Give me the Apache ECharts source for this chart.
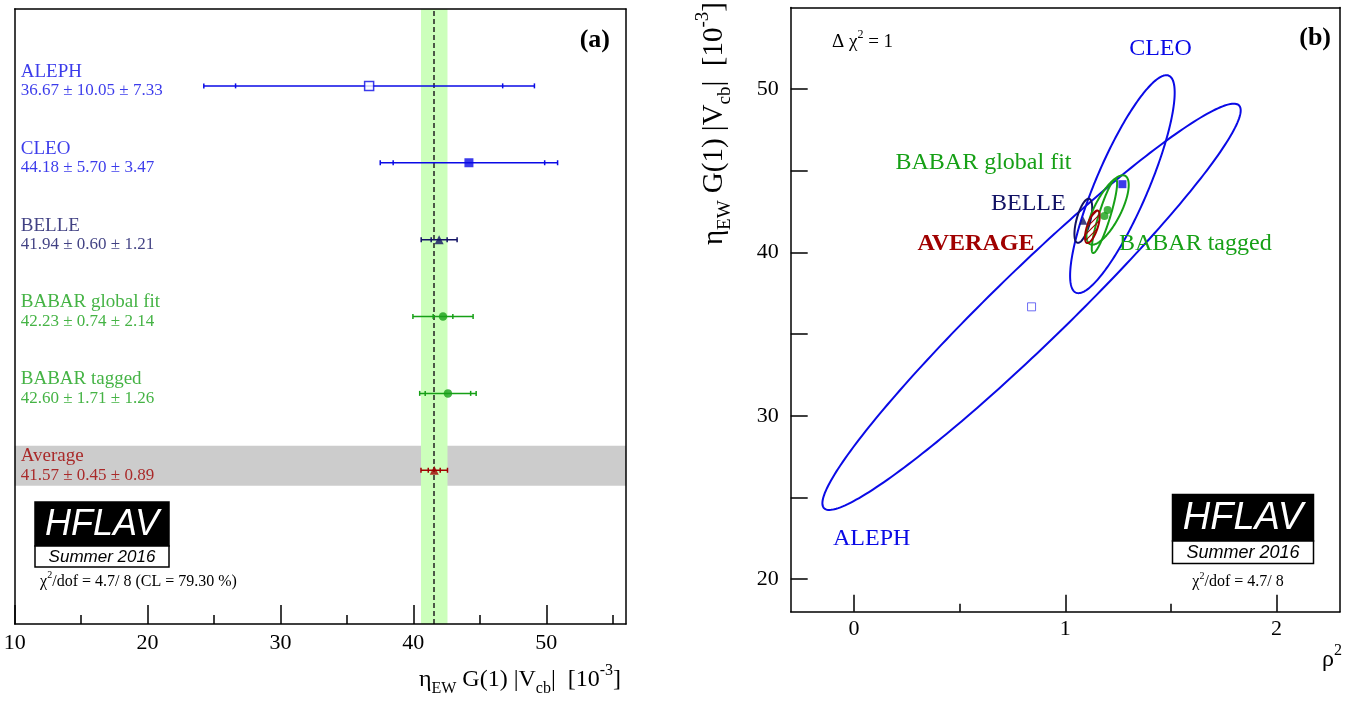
<!DOCTYPE html>
<html><head><meta charset="utf-8">
<script src="https://cdn.jsdelivr.net/npm/echarts@6/dist/echarts.min.js"></script>
<style>html,body{margin:0;padding:0;background:#fff}#c{width:1350px;height:703px}</style>
</head><body><div id="c"></div>
<script>
// ---------------- data ----------------
const experiments = ['ALEPH', 'CLEO', 'BELLE', 'BABAR global fit', 'BABAR tagged', 'Average'];
const vcbValues   = [36.67, 44.18, 41.94, 42.23, 42.60, 41.57];
const statErrors  = [10.05, 5.70, 0.60, 0.74, 1.71, 0.45];
const systErrors  = [7.33, 3.47, 1.21, 2.14, 1.26, 0.89];
const rowPositions = [7, 6, 5, 4, 3, 2];
const rhoValues   = [0.84, 1.27, 1.085, 1.185, 1.20, 1.128];
const rhoSigmas   = [0.99, 0.2475, 0.042, 0.06, 0.10, 0.035];
const correlations = [0.967, 0.84, 0.60, 0.88, 0.72, 0.66];
const leftMajorTicks = [10, 20, 30, 40, 50];
const leftMinorTicks = [15, 25, 35, 45, 55];
const rightXMajorTicks = [0, 1, 2];
const rightXMinorTicks = [0.5, 1.5];
const rightYTicks = [20, 25, 30, 35, 40, 45, 50];
const rightYLabels = [20, 30, 40, 50];

// ---------------- style ----------------
const SERIF = "'Liberation Serif','Times New Roman',serif";
const SANS = "'Liberation Sans',Arial,sans-serif";
const colors = ['#0a0ae6', '#0a0ae6', '#111164', '#16a016', '#16a016', '#a00000'];
const leftSymbols = ['rect', 'rect', 'triangle', 'circle', 'circle', 'triangle'];
const totalErrors = vcbValues.map((v, i) => Math.sqrt(statErrors[i] ** 2 + systErrors[i] ** 2));
const avgIdx = 5;

const chart = echarts.init(document.getElementById('c'));

const frameLine = {color: '#000', width: 1.5};
function ax(extra) {
  return Object.assign({type: 'value', splitLine: {show: false},
    axisLine: {show: false, onZero: false, lineStyle: frameLine},
    axisTick: {show: false}, axisLabel: {show: false}, z: 10}, extra);
}
const tickLabel = {show: true, fontSize: 22, fontFamily: SERIF, color: '#000'};

// hatch pattern for average ellipse
const hc = document.createElement('canvas');
hc.width = 6; hc.height = 6;
const hg = hc.getContext('2d');
hg.strokeStyle = '#a00000'; hg.lineWidth = 1.1;
hg.beginPath();
hg.moveTo(0, 6); hg.lineTo(6, 0);
hg.moveTo(-1, 1); hg.lineTo(1, -1);
hg.moveTo(5, 7); hg.lineTo(7, 5);
hg.stroke();

const xAxes = [
  ax({gridIndex: 0, min: 10, max: 56, position: 'bottom',
      axisLine: {show: true, onZero: false, lineStyle: frameLine},
      axisTick: {show: true, inside: true, length: 19, customValues: leftMajorTicks, lineStyle: frameLine},
      axisLabel: Object.assign({customValues: leftMajorTicks, margin: 8}, tickLabel)}),
  ax({gridIndex: 0, min: 10, max: 56, position: 'bottom',
      axisTick: {show: true, inside: true, length: 9, customValues: leftMinorTicks, lineStyle: frameLine}}),
  ax({gridIndex: 0, min: 10, max: 56, position: 'top', axisLine: {show: true, onZero: false, lineStyle: frameLine}}),
  ax({gridIndex: 1, min: -0.3, max: 2.3, position: 'bottom',
      axisLine: {show: true, onZero: false, lineStyle: frameLine},
      axisTick: {show: true, inside: true, length: 17, customValues: rightXMajorTicks, lineStyle: frameLine},
      axisLabel: Object.assign({customValues: rightXMajorTicks, margin: 7}, tickLabel)}),
  ax({gridIndex: 1, min: -0.3, max: 2.3, position: 'bottom',
      axisTick: {show: true, inside: true, length: 8, customValues: rightXMinorTicks, lineStyle: frameLine}}),
  ax({gridIndex: 1, min: -0.3, max: 2.3, position: 'top', axisLine: {show: true, onZero: false, lineStyle: frameLine}})
];
const yAxes = [
  ax({gridIndex: 0, min: 0, max: 8, position: 'left', axisLine: {show: true, onZero: false, lineStyle: frameLine}}),
  ax({gridIndex: 0, min: 0, max: 8, position: 'right', axisLine: {show: true, onZero: false, lineStyle: frameLine}}),
  ax({gridIndex: 1, min: 18, max: 55, position: 'left',
      axisLine: {show: true, onZero: false, lineStyle: frameLine},
      axisTick: {show: true, inside: true, length: 17, customValues: rightYTicks, lineStyle: frameLine},
      axisLabel: Object.assign({customValues: rightYLabels, margin: 12}, tickLabel)}),
  ax({gridIndex: 1, min: 18, max: 55, position: 'right', axisLine: {show: true, onZero: false, lineStyle: frameLine}})
];

const avgLo = vcbValues[avgIdx] - totalErrors[avgIdx];
const avgHi = vcbValues[avgIdx] + totalErrors[avgIdx];

const series = [
  {type: 'scatter', xAxisIndex: 0, yAxisIndex: 0, data: [], silent: true,
   markArea: {silent: true, z: 1, itemStyle: {color: '#cccccc'}, data: [[{yAxis: 1.8}, {yAxis: 2.32}]]}},
  {type: 'scatter', xAxisIndex: 0, yAxisIndex: 0, data: [], silent: true,
   markArea: {silent: true, z: 2, itemStyle: {color: '#ccffbb'}, data: [[{xAxis: avgLo}, {xAxis: avgHi}]]}},
  {type: 'scatter', xAxisIndex: 0, yAxisIndex: 0, data: [], silent: true,
   markLine: {silent: true, z: 3, symbol: 'none', label: {show: false},
     lineStyle: {color: '#222', width: 1.5, type: [5, 3]}, data: [{xAxis: vcbValues[avgIdx]}]}},
  {type: 'custom', xAxisIndex: 0, yAxisIndex: 0, z: 4, silent: true,
   data: experiments.map((n, i) => [vcbValues[i], rowPositions[i], statErrors[i], totalErrors[i]]),
   encode: {x: 0, y: 1},
   renderItem(params, api) {
     const v = api.value(0), r = api.value(1), s = api.value(2), t = api.value(3);
     const c = colors[params.dataIndex];
     const lo = api.coord([v - t, r]), hi = api.coord([v + t, r]);
     const sl = api.coord([v - s, r]), sh = api.coord([v + s, r]);
     const st = {stroke: c, lineWidth: 1.5};
     const cap = p => ({type: 'line', shape: {x1: p[0], y1: p[1] - 2.5, x2: p[0], y2: p[1] + 2.5}, style: st});
     return {type: 'group', children: [
       {type: 'line', shape: {x1: lo[0], y1: lo[1], x2: hi[0], y2: hi[1]}, style: st},
       cap(lo), cap(hi), cap(sl), cap(sh)]};
   }},
  {type: 'scatter', xAxisIndex: 0, yAxisIndex: 0, z: 5, silent: true,
   data: experiments.map((n, i) => ({value: [vcbValues[i], rowPositions[i]], symbol: leftSymbols[i],
     symbolSize: leftSymbols[i] === 'circle' ? 8.5 : 9,
     itemStyle: i === 0 ? {color: '#fff', borderColor: colors[i], borderWidth: 1.5} : {color: colors[i]}}))},
  {type: 'scatter', xAxisIndex: 0, yAxisIndex: 0, z: 6, silent: true, symbolSize: 0.1,
   data: experiments.map((n, i) => ({value: [10, rowPositions[i]],
     label: {show: true, position: 'right', distance: 6, offset: [0, -4.5],
       formatter: '{n|' + n + '}\n{v|' + vcbValues[i].toFixed(2) + ' ± ' + statErrors[i].toFixed(2) + ' ± ' + systErrors[i].toFixed(2) + '}',
       rich: {n: {fontSize: 19, lineHeight: 19, fontFamily: SERIF, color: colors[i]},
              v: {fontSize: 17, lineHeight: 19, fontFamily: SERIF, color: colors[i]}}}}))},
  // right panel ellipses
  {type: 'custom', xAxisIndex: 3, yAxisIndex: 2, z: 4, silent: true,
   data: experiments.map((n, i) => [rhoValues[i], vcbValues[i], rhoSigmas[i], totalErrors[i], correlations[i]]),
   encode: {x: 0, y: 1},
   renderItem(params, api) {
     const i = params.dataIndex;
     const x0 = api.value(0), y0 = api.value(1), sx = api.value(2), sy = api.value(3), r = api.value(4);
     const pts = [];
     const N = 240;
     for (let k = 0; k < N; k++) {
       const t = 2 * Math.PI * k / N;
       pts.push(api.coord([x0 + sx * Math.cos(t), y0 + sy * (r * Math.cos(t) + Math.sqrt(1 - r * r) * Math.sin(t))]));
     }
     return {type: 'polygon', shape: {points: pts},
       style: {fill: i === avgIdx ? {image: hc, repeat: 'repeat'} : 'none', stroke: colors[i], lineWidth: 2}};
   }},
  {type: 'scatter', xAxisIndex: 3, yAxisIndex: 2, z: 5, silent: true,
   data: experiments.slice(0, 5).map((n, i) => ({value: [rhoValues[i], vcbValues[i]], symbol: leftSymbols[i],
     symbolSize: 8,
     itemStyle: i === 0 ? {color: '#fff', borderColor: '#4a4af0', borderWidth: 1} : {color: colors[i]}}))}
];

function rt(size) {
  return {
    m: {fontSize: size, lineHeight: Math.round(size * 1.4), verticalAlign: 'middle', fontFamily: SERIF, fill: '#000', color: '#000'},
    s: {fontSize: Math.round(size * 0.65), lineHeight: Math.round(size * 0.65), verticalAlign: 'bottom', fontFamily: SERIF, fill: '#000', color: '#000'},
    p: {fontSize: Math.round(size * 0.65), lineHeight: Math.round(size * 0.65), verticalAlign: 'top', fontFamily: SERIF, fill: '#000', color: '#000'}
  };
}
function txt(x, y, text, size, color, align, extra) {
  return Object.assign({type: 'text', x: x, y: y, z: 20, silent: true,
    style: {text: text, fontSize: size, fontFamily: SERIF, fill: color,
      align: align, textAlign: align, verticalAlign: 'middle', textVerticalAlign: 'middle'}}, extra || {});
}
function richTxt(x, y, text, size, align, rotation) {
  const o = {type: 'text', x: x, y: y, z: 20, silent: true,
    style: {text: text, fontSize: size, fontFamily: SERIF, fill: '#000', rich: rt(size),
      align: align, textAlign: align, verticalAlign: 'middle', textVerticalAlign: 'middle'}};
  if (rotation) o.rotation = rotation;
  return o;
}
function logo(x, y, w, hBlack, hWhite, big, small) {
  return {type: 'group', x: x, y: y, z: 20, silent: true, children: [
    {type: 'rect', shape: {x: 0, y: 0, width: w, height: hBlack}, style: {fill: '#000', stroke: '#000', lineWidth: 1.5}},
    {type: 'rect', shape: {x: 0, y: hBlack, width: w, height: hWhite}, style: {fill: '#fff', stroke: '#000', lineWidth: 1.5}},
    {type: 'text', x: w / 2, y: hBlack / 2 + 1, style: {text: 'HFLAV', fontSize: big, fontStyle: 'italic', fontFamily: SANS,
      fill: '#fff', align: 'center', textAlign: 'center', verticalAlign: 'middle', textVerticalAlign: 'middle'}},
    {type: 'text', x: w / 2, y: hBlack + hWhite / 2 + 0.5, style: {text: 'Summer 2016', fontSize: small, fontStyle: 'italic', fontFamily: SANS,
      fill: '#000', align: 'center', textAlign: 'center', verticalAlign: 'middle', textVerticalAlign: 'middle'}}
  ]};
}

const titleText = '{m|η}{s|EW}{m| G(1) |V}{s|cb}{m||  [10}{p|-3}{m|]}';

const graphic = [
  txt(610, 40, '(a)', 26, '#000', 'right', {}),
  txt(1331, 38, '(b)', 26, '#000', 'right', {}),
  logo(35, 502, 134, 44, 21, 36, 17),
  logo(1172.5, 494.5, 141, 46.5, 22.5, 38, 18),
  richTxt(138.5, 581.5, '{m|χ}{p|2}{m|/dof = 4.7/ 8 (CL = 79.30 %)}', 16, 'center'),
  richTxt(1238, 582, '{m|χ}{p|2}{m|/dof = 4.7/ 8}', 16, 'center'),
  richTxt(832, 42, '{m|Δ χ}{p|2}{m| = 1}', 19, 'left'),
  richTxt(621, 680, titleText, 24, 'right'),
  richTxt(714, 2, titleText, 29, 'right', Math.PI / 2),
  richTxt(1342, 660, '{m|ρ}{p|2}', 24, 'right'),
  txt(1160.5, 48.5, 'CLEO', 24, colors[1], 'center'),
  txt(895.5, 162.5, 'BABAR global fit', 24, colors[3], 'left'),
  txt(991, 203.5, 'BELLE', 24, colors[2], 'left'),
  txt(917.5, 243.5, 'AVERAGE', 24, colors[5], 'left'),
  txt(1119, 243.5, 'BABAR tagged', 24, colors[4], 'left'),
  txt(833, 539, 'ALEPH', 24, colors[0], 'left')
];
graphic[13].style.fontWeight = 'bold';
graphic[0].style.fontWeight = 'bold';
graphic[1].style.fontWeight = 'bold';

chart.setOption({
  animation: false,
  backgroundColor: '#fff',
  grid: [
    {left: 14.7, top: 9, width: 611.3, height: 615},
    {left: 790.7, top: 7.5, width: 549.3, height: 604.2}
  ],
  xAxis: xAxes,
  yAxis: yAxes,
  series: series,
  graphic: graphic
});
</script></body></html>
